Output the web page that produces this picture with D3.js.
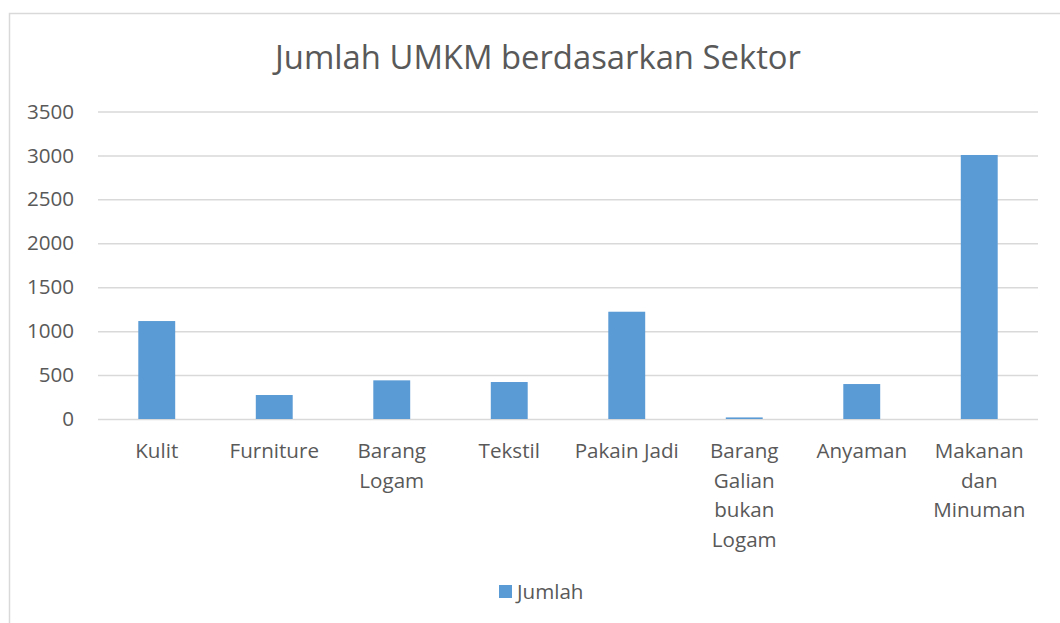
<!DOCTYPE html>
<html>
<head>
<meta charset="utf-8">
<script src="https://cdn.jsdelivr.net/npm/d3@7"></script>
<style>
  html, body { margin: 0; padding: 0; background: #fff; }
  svg { display: block; font-family: "Open Sans", Lato, sans-serif; }
</style>
</head>
<body>
<div id="chart"></div>
<script>
// Data ///////////////////////////////////////////////////////////////////
const categories = ['Kulit', 'Furniture', 'Barang Logam', 'Tekstil', 'Pakain Jadi',
                    'Barang Galian bukan Logam', 'Anyaman', 'Makanan dan Minuman'];
const jumlah     = [1115, 273, 440, 421, 1221, 18, 398, 3005];
const yTicks     = [0, 500, 1000, 1500, 2000, 2500, 3000, 3500];
const seriesName = 'Jumlah';
const title      = 'Jumlah UMKM berdasarkan Sektor';

// label lines as wrapped in the picture
const labelLines = [['Kulit'], ['Furniture'], ['Barang', 'Logam'], ['Tekstil'], ['Pakain Jadi'],
                    ['Barang', 'Galian', 'bukan', 'Logam'], ['Anyaman'], ['Makanan', 'dan', 'Minuman']];

// SVG setup //////////////////////////////////////////////////////////////
const width = 1060, height = 623;
const margin = { left: 98, right: 22, top: 111.5, bottom: 204 };
const textColor = '#595959';
const fontSize = 20.6;

const svg = d3.select('#chart').append('svg')
  .attr('width', width)
  .attr('height', height)
  .attr('viewBox', [0, 0, width, height]);

// chart frame (only top and left edges are visible in the crop)
svg.append('rect')
  .attr('x', 9.5).attr('y', 13.5)
  .attr('width', width + 20).attr('height', height + 20)
  .attr('fill', '#fff')
  .attr('stroke', '#d9d9d9')
  .attr('stroke-width', 1.5);

svg.append('text')
  .attr('x', 538).attr('y', 69)
  .attr('text-anchor', 'middle')
  .attr('fill', textColor)
  .attr('font-size', 32.8)
  .text(title);

// Scales /////////////////////////////////////////////////////////////////
const x = d3.scaleBand()
  .domain(categories)
  .range([margin.left, width - margin.right])
  .paddingInner(0.686)
  .paddingOuter(0.343);

const xCenter = d3.scaleBand().domain(categories).range([margin.left, width - margin.right]);

const y = d3.scaleLinear()
  .domain([0, 3500])
  .range([height - margin.bottom, margin.top]);

// Grid + y axis //////////////////////////////////////////////////////////
const yAxis = svg.append('g')
  .attr('transform', `translate(${margin.left},0)`)
  .call(d3.axisLeft(y)
    .tickValues(yTicks)
    .tickSize(-(width - margin.left - margin.right))
    .tickPadding(24)
    .tickFormat(d3.format('d')));

yAxis.select('.domain').remove();
yAxis.selectAll('.tick line').attr('stroke', '#d9d9d9').attr('stroke-width', 1.5);
yAxis.selectAll('.tick text')
  .attr('fill', textColor)
  .attr('font-size', fontSize)
  .attr('font-family', '"Open Sans", sans-serif');

// Bars ///////////////////////////////////////////////////////////////////
svg.append('g')
  .selectAll('rect')
  .data(categories)
  .join('rect')
  .attr('x', d => x(d))
  .attr('width', x.bandwidth())
  .attr('y', (d, i) => y(jumlah[i]))
  .attr('height', (d, i) => y(0) - y(jumlah[i]))
  .attr('fill', '#5b9bd5');

// Category labels ////////////////////////////////////////////////////////
const labels = svg.append('g')
  .attr('fill', textColor)
  .attr('font-size', fontSize)
  .attr('text-anchor', 'middle');

labels.selectAll('text')
  .data(categories)
  .join('text')
  .attr('x', d => xCenter(d) + xCenter.bandwidth() / 2)
  .attr('y', 458)
  .each(function(d, i) {
    d3.select(this).selectAll('tspan')
      .data(labelLines[i])
      .join('tspan')
      .attr('x', xCenter(d) + xCenter.bandwidth() / 2)
      .attr('dy', (t, j) => j === 0 ? 0 : 29.6)
      .text(t => t);
  });

// Legend /////////////////////////////////////////////////////////////////
const legend = svg.append('g').attr('transform', 'translate(499,585)');
legend.append('rect').attr('width', 13).attr('height', 13).attr('fill', '#5b9bd5');
legend.append('text')
  .attr('x', 18).attr('y', 14)
  .attr('fill', textColor)
  .attr('font-size', fontSize)
  .text(seriesName);
</script>
</body>
</html>
